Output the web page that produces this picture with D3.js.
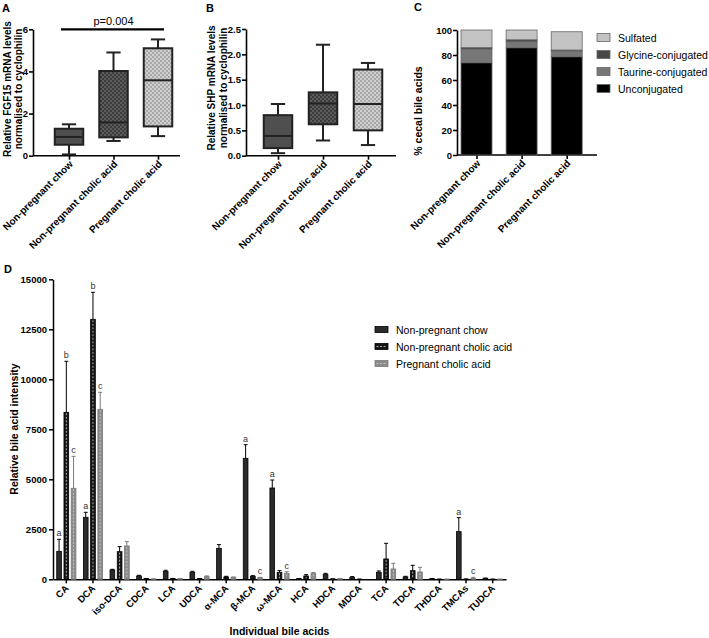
<!DOCTYPE html>
<html><head><meta charset="utf-8">
<script src="https://cdn.jsdelivr.net/npm/d3@7"></script>
<style>
body{margin:0;background:#fff;}
svg{display:block;font-family:"Liberation Sans",Arial,Helvetica,sans-serif;}
</style></head>
<body>
<svg id="chart" width="709" height="638"></svg>
<script>
// ---------- DATA ----------
const groups = ["Non-pregnant chow","Non-pregnant cholic acid","Pregnant cholic acid"];

// Panel A: FGF15 box plots (min, Q1, median, Q3, max)
const fgf15Min    = [0.06, 0.70, 0.93];
const fgf15Q1     = [0.52, 0.87, 1.39];
const fgf15Median = [0.89, 1.58, 3.58];
const fgf15Q3     = [1.28, 4.02, 5.10];
const fgf15Max    = [1.49, 4.90, 5.52];
const fgf15Ticks  = [0, 2, 4, 6];
const fgf15PValue = "p=0.004";

// Panel B: SHP box plots
const shpMin    = [0.05, 0.30, 0.21];
const shpQ1     = [0.15, 0.62, 0.50];
const shpMedian = [0.39, 1.03, 1.02];
const shpQ3     = [0.80, 1.25, 1.70];
const shpMax    = [1.02, 2.19, 1.83];
const shpTicks  = [0, 0.5, 1.0, 1.5, 2.0, 2.5];

// Panel C: % cecal bile acids (stacked)
const conjClasses   = ["Unconjugated","Taurine-conjugated","Glycine-conjugated","Sulfated"];
const unconjugated  = [73.8, 85.8, 78.6];
const taurineConj   = [11.0, 4.8, 4.6];
const glycineConj   = [1.1, 1.6, 0.8];
const sulfated      = [14.1, 7.8, 14.6];
const cecalTicks    = [0, 20, 40, 60, 80, 100];

// Panel D: individual bile acids
const bileAcids = ["CA","DCA","iso-DCA","CDCA","LCA","UDCA","α-MCA","β-MCA","ω-MCA","HCA","HDCA","MDCA","TCA","TDCA","THDCA","TMCAs","TUDCA"];
const chowMean = [1400,3100,467,167,400,350,1550,6050,4565,33,250,100,350,117,33,2383,50];
const chowErr  = [600,250,33,33,50,50,183,680,400,10,50,33,67,33,8,700,10];
const npcaMean = [8350,13000,1383,33,33,33,117,150,350,167,17,5,1017,433,5,10,5];
const npcaErr  = [2550,1350,250,8,8,8,33,33,83,66,5,3,783,267,3,5,3];
const pcaMean  = [4550,8500,1667,17,33,133,100,83,300,300,33,0,517,367,5,50,5];
const pcaErr   = [1600,850,216,5,8,35,15,15,80,33,8,0,283,233,3,50,3];
const chowSig  = ["a","a","","","","","","a","a","","","","","","","a",""];
const npcaSig  = ["b","b","","","","","","","","","","","","","","",""];
const pcaSig   = ["c","c","","","","","","c","c","","","","","","","c",""];
const dTicks   = [0, 2500, 5000, 7500, 10000, 12500, 15000];
const dSeries  = ["Non-pregnant chow","Non-pregnant cholic acid","Pregnant cholic acid"];

// ---------- DRAW ----------
const svg = d3.select("#chart");
const defs = svg.append("defs");
function checker(id, bg, fg){
  const p = defs.append("pattern").attr("id",id).attr("width",4).attr("height",4)
    .attr("patternUnits","userSpaceOnUse");
  p.append("rect").attr("width",4).attr("height",4).attr("fill",bg);
  p.append("rect").attr("width",2).attr("height",2).attr("fill",fg);
  p.append("rect").attr("x",2).attr("y",2).attr("width",2).attr("height",2).attr("fill",fg);
}
checker("chkDark","#5c5c5c","#3c3c3c");
checker("chkLight","#cfcfcf","#a8a8a8");
const boxFills = ["#4f4f4f","url(#chkDark)","url(#chkLight)"];

function letter(t,x,y){
  svg.append("text").attr("x",x).attr("y",y).attr("font-size",11).attr("font-weight","bold").text(t);
}

function boxPanel(o){
  const y = d3.scaleLinear().domain(o.domain).range([o.y0,o.y1]);
  const x = d3.scalePoint().domain(groups).range(o.xr);
  const g = svg.append("g");
  o.title.forEach((t,k)=>{
    g.append("text").attr("transform",`translate(${o.tx[k]},${o.ty}) rotate(-90)`)
      .attr("text-anchor","middle").attr("font-size",10).attr("font-weight","bold").text(t);
  });
  const ya = g.append("g").attr("transform",`translate(${o.ax},0)`)
    .call(d3.axisLeft(y).tickValues(o.ticks).tickFormat(o.fmt).tickSize(4).tickSizeOuter(0));
  ya.select(".domain").attr("stroke-width",1.6);
  ya.selectAll(".tick line").attr("stroke-width",1.6);
  ya.selectAll("text").attr("font-size",9.5).attr("font-weight","bold").attr("x",-5).attr("fill","#000");
  const xa = g.append("g").attr("transform",`translate(0,${o.y0})`)
    .call(d3.axisBottom(x).tickSize(4).tickSizeOuter(0).tickFormat(""));
  xa.select(".domain").attr("d",`M${o.ax},0H${o.axEnd}`).attr("stroke-width",1.6);
  xa.selectAll(".tick line").attr("stroke-width",1.6);
  groups.forEach(d=>{
    g.append("text").attr("transform",`translate(${x(d)+4.5},${o.y0+9}) rotate(-45)`)
      .attr("text-anchor","end").attr("font-size",10).attr("font-weight","bold").text(d);
  });
  const w = o.bw;
  groups.forEach((d,i)=>{
    const cx = x(d);
    const ln = (x1,y1,x2,y2)=>g.append("line").attr("x1",x1).attr("y1",y1).attr("x2",x2).attr("y2",y2)
      .attr("stroke","#222").attr("stroke-width",2);
    ln(cx,y(o.max[i]),cx,y(o.q3[i]));
    ln(cx,y(o.min[i]),cx,y(o.q1[i]));
    ln(cx-w/4,y(o.max[i]),cx+w/4,y(o.max[i]));
    ln(cx-w/4,y(o.min[i]),cx+w/4,y(o.min[i]));
    g.append("rect").attr("x",cx-w/2).attr("y",y(o.q3[i])).attr("width",w)
      .attr("height",y(o.q1[i])-y(o.q3[i])).attr("fill",boxFills[i]).attr("stroke","#222").attr("stroke-width",2);
    ln(cx-w/2,y(o.median[i]),cx+w/2,y(o.median[i]));
  });
  return {x,y,g};
}

// Panel A
letter("A",2,12);
const pa = boxPanel({domain:[0,6],y0:155.7,y1:29.3,xr:[69,158],ax:33,axEnd:180,bw:28.5,
  ticks:fgf15Ticks,fmt:d3.format("d"),min:fgf15Min,q1:fgf15Q1,median:fgf15Median,q3:fgf15Q3,max:fgf15Max,
  title:["Relative FGF15 mRNA levels","normalised to cyclophilin"],tx:[10.5,21.5],ty:89});
pa.g.append("line").attr("x1",pa.x(groups[0])-8).attr("x2",pa.x(groups[2])+6)
  .attr("y1",pa.y(6)).attr("y2",pa.y(6)).attr("stroke","#000").attr("stroke-width",2.2);
pa.g.append("text").attr("x",(pa.x(groups[0])+pa.x(groups[2]))/2).attr("y",pa.y(6)-4)
  .attr("text-anchor","middle").attr("font-size",11).text(fgf15PValue);

// Panel B
letter("B",206,12);
boxPanel({domain:[0,2.5],y0:155.7,y1:29,xr:[278,368],ax:246,axEnd:396,bw:28.5,
  ticks:shpTicks,fmt:d3.format(".1f"),min:shpMin,q1:shpQ1,median:shpMedian,q3:shpQ3,max:shpMax,
  title:["Relative SHP mRNA levels","normalised to cyclophilin"],tx:[215,226.5],ty:88});

// Panel C
letter("C",414,11);
(function(){
  const y = d3.scaleLinear().domain([0,100]).range([155,30]);
  const x = d3.scalePoint().domain(groups).range([476.5,566.7]);
  const g = svg.append("g");
  const ya = g.append("g").attr("transform","translate(457,0)")
    .call(d3.axisLeft(y).tickValues(cecalTicks).tickSize(4).tickSizeOuter(0));
  ya.select(".domain").attr("stroke-width",1.6);
  ya.selectAll(".tick line").attr("stroke-width",1.6);
  ya.selectAll("text").attr("font-size",9.5).attr("font-weight","bold").attr("x",-5);
  const xa = g.append("g").attr("transform","translate(0,155)")
    .call(d3.axisBottom(x).tickSize(4).tickSizeOuter(0).tickFormat(""));
  xa.select(".domain").attr("d","M457,0H597").attr("stroke-width",1.6);
  xa.selectAll(".tick line").attr("stroke-width",1.6);
  groups.forEach(d=>{
    g.append("text").attr("transform",`translate(${x(d)+4.5},${164}) rotate(-45)`)
      .attr("text-anchor","end").attr("font-size",10).attr("font-weight","bold").text(d);
  });
  const series = [unconjugated,taurineConj,glycineConj,sulfated];
  const colors = ["#000","#777","#474747","#c3c3c3"];
  const rows = groups.map((d,i)=>{const r={group:d}; conjClasses.forEach((c,k)=>r[c]=series[k][i]); return r;});
  const stack = d3.stack().keys(conjClasses)(rows);
  stack.forEach((s,k)=>{
    g.selectAll(null).data(s).join("rect")
      .attr("x",d=>x(d.data.group)-15.5).attr("width",31)
      .attr("y",d=>y(d[1])).attr("height",d=>y(d[0])-y(d[1]))
      .attr("fill",colors[k]).attr("stroke","#666").attr("stroke-width",0.8);
  });
  g.append("text").attr("transform","translate(422,111) rotate(-90)").attr("text-anchor","middle")
    .attr("font-size",10.5).attr("font-weight","bold").text("% cecal bile acids");
  const legOrder = [3,2,1,0];
  legOrder.forEach((k,j)=>{
    const ly = 37.5 + j*17;
    g.append("rect").attr("x",597).attr("y",ly-4).attr("width",13).attr("height",8)
      .attr("fill",colors[k]).attr("stroke","#666").attr("stroke-width",0.8);
    g.append("text").attr("x",618).attr("y",ly+4).attr("font-size",10.5).text(conjClasses[k]);
  });
})();

// Panel D
letter("D",4,273);
(function(){
  const y = d3.scaleLinear().domain([0,15000]).range([579.3,279.3]);
  const x = d3.scaleBand().domain(bileAcids).range([53,506]).paddingInner(0.28).paddingOuter(0.14);
  const xs = d3.scaleBand().domain(dSeries).range([0,x.bandwidth()]).paddingInner(0.35);
  const g = svg.append("g");
  const ya = g.append("g").attr("transform","translate(53,0)")
    .call(d3.axisLeft(y).tickValues(dTicks).tickFormat(d3.format("d")).tickSize(4).tickSizeOuter(0));
  ya.select(".domain").attr("stroke-width",1.5);
  ya.selectAll(".tick line").attr("stroke-width",1.5);
  ya.selectAll("text").attr("font-size",9.5).attr("font-weight","bold").attr("x",-6);
  const xa = g.append("g").attr("transform","translate(0,579.3)")
    .call(d3.axisBottom(x).tickSize(4).tickSizeOuter(0).tickFormat(""));
  xa.select(".domain").attr("stroke-width",1.5);
  xa.selectAll(".tick line").attr("stroke-width",1.5);
  bileAcids.forEach(d=>{
    const cx = x(d)+x.bandwidth()/2;
    g.append("text").attr("transform",`translate(${cx+3},${589}) rotate(-45)`)
      .attr("text-anchor","end").attr("font-size",9.5).attr("font-weight","bold").text(d);
  });
  const means = [chowMean,npcaMean,pcaMean];
  const errs  = [chowErr,npcaErr,pcaErr];
  const sigs  = [chowSig,npcaSig,pcaSig];
  const fills = ["#2b2b2b","#141414","#8a8a8a"];
  const strokes = ["#000","#000","#7a7a7a"];
  const dashCol = [null,"#bdbdbd","#c9c9c9"];
  dSeries.forEach((s,k)=>{
    const bw = xs.bandwidth();
    bileAcids.forEach((b,i)=>{
      const bx = x(b)+xs(s);
      const m = means[k][i], e = errs[k][i];
      const top = y(m), et = y(m+e);
      const cx = bx+bw/2;
      if (e>0){
        g.append("line").attr("x1",cx).attr("x2",cx).attr("y1",top).attr("y2",et)
          .attr("stroke",strokes[k]).attr("stroke-width",1);
        g.append("line").attr("x1",cx-2).attr("x2",cx+2).attr("y1",et).attr("y2",et)
          .attr("stroke",strokes[k]).attr("stroke-width",1);
      }
      g.append("rect").attr("x",bx).attr("y",top).attr("width",bw).attr("height",Math.max(0,y(0)-top))
        .attr("fill",fills[k]).attr("stroke",strokes[k]).attr("stroke-width",0.8);
      if (dashCol[k] && y(0)-top>3){
        g.append("line").attr("x1",cx).attr("x2",cx).attr("y1",top+1).attr("y2",y(0)-1)
          .attr("stroke",dashCol[k]).attr("stroke-width",0.9).attr("stroke-dasharray","2,1.5");
      }
      if (sigs[k][i]){
        g.append("text").attr("x",cx).attr("y",et-3).attr("text-anchor","middle")
          .attr("font-size",9).attr("fill","#333").text(sigs[k][i]);
      }
    });
  });
  g.append("text").attr("transform","translate(18,429) rotate(-90)").attr("text-anchor","middle")
    .attr("font-size",10.5).attr("font-weight","bold").text("Relative bile acid intensity");
  g.append("text").attr("x",279.5).attr("y",635).attr("text-anchor","middle")
    .attr("font-size",10.5).attr("font-weight","bold").text("Individual bile acids");
  dSeries.forEach((s,k)=>{
    const ly = 329.5 + k*17;
    g.append("rect").attr("x",375).attr("y",ly-3).attr("width",13).attr("height",6)
      .attr("fill",fills[k]).attr("stroke",strokes[k]).attr("stroke-width",0.8);
    if (dashCol[k]) g.append("line").attr("x1",376.5).attr("x2",386.5).attr("y1",ly).attr("y2",ly)
      .attr("stroke",dashCol[k]).attr("stroke-width",0.9).attr("stroke-dasharray","2,1.5");
    g.append("text").attr("x",396).attr("y",ly+4).attr("font-size",10.5).text(s);
  });
})();
</script>
</body></html>
